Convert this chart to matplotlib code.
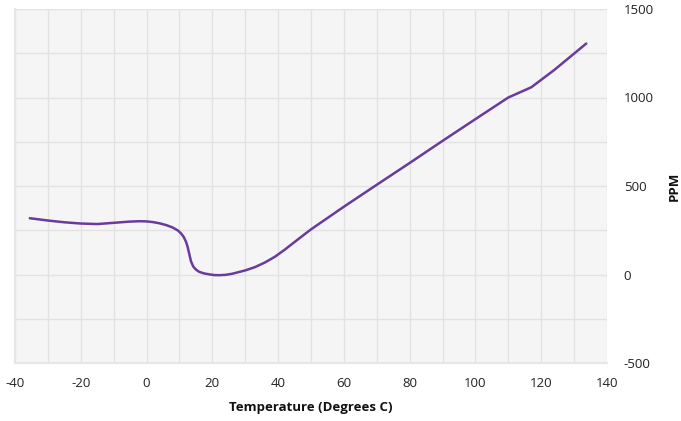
import matplotlib
matplotlib.use("Agg")
import matplotlib.pyplot as plt

temperature = [-35.5, -30, -25, -20, -15, -10, -5, -2, 0, 2, 4, 6, 8, 9.5, 10.5, 11.3, 12, 12.5, 13,
               13.5, 14.2, 15, 16, 17.5, 19, 20.5, 22, 24, 26, 30, 33, 36, 39, 42, 46, 50,
               60, 70, 80, 90, 100, 110, 117, 124, 133.7]
ppm = [318, 305, 295, 288, 285, 292, 299, 301, 300, 296, 289, 279, 265, 249, 232, 212, 185, 155, 115,
       75, 45, 28, 15, 6, 1, -3, -4, -2, 4, 23, 42, 68, 100, 140, 198, 255,
       383, 507, 630, 755, 878, 1000, 1058, 1156, 1305]
x_ticks = [-40, -20, 0, 20, 40, 60, 80, 100, 120, 140]
y_ticks = [-500, 0, 500, 1000, 1500]

plt.rcParams['font.family'] = ['Open Sans', 'DejaVu Sans']

fig = plt.figure(figsize=(6.81, 4.21), dpi=100)
ax = fig.add_axes([15/681, 1-363/421, (607-15)/681, (363-9)/421])
ax.set_facecolor('#f5f5f5')

ax.set_xlim(-40, 140)
ax.set_ylim(-500, 1500)
ax.set_yticks(range(-500, 1501, 250))
ax.grid(True, color='#e2e2e2', linewidth=1.0)
ax.set_axisbelow(True)

ax.plot(temperature, ppm, color='#6a3a9c', linewidth=1.8, solid_capstyle='round',
        solid_joinstyle='round')

ax.set_xticks(range(-40, 141, 10))
ax.set_xticklabels([str(v) if v in x_ticks else '' for v in range(-40, 141, 10)])
ax.yaxis.tick_right()
ax.set_yticklabels([str(v) if v in y_ticks else '' for v in range(-500, 1501, 250)])
ax.tick_params(axis='both', length=0, labelsize=9.5, colors='#222222')
ax.tick_params(axis='x', pad=10)
ax.tick_params(axis='y', pad=12)
for lab in ax.get_yticklabels():
    lab.set_horizontalalignment('left')

for s in ['top', 'right']:
    ax.spines[s].set_visible(False)
for s in ['left', 'bottom']:
    ax.spines[s].set_color('#e6e6e6')
    ax.spines[s].set_linewidth(1.5)

ax.set_xlabel('Temperature (Degrees C)', fontsize=9.5, fontweight='bold', color='#111111', labelpad=8)
fig.text(674/681, 1-186/421, 'PPM', rotation=90, fontsize=9.5, fontweight='bold',
         color='#111111', ha='center', va='center')

fig.savefig('out.png', dpi=100)
